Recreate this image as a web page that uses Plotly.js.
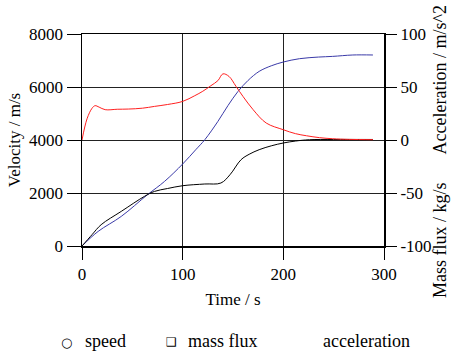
<!DOCTYPE html>
<html>
<head>
<meta charset="utf-8">
<script src="https://cdn.plot.ly/plotly-3.0.1.min.js"></script>
<style>html,body{margin:0;padding:0;background:#fff;}#chart{width:452px;height:354px;}</style>
</head>
<body>
<div id="chart"></div>
<script>
// Speed (velocity, m/s) — blue
const speedTime  = [0, 16, 39, 65, 82, 100, 113, 122, 135, 145, 155, 165, 176, 188, 200, 216, 235, 249, 269, 289];
const speedValue = [0, 550, 1117, 1935, 2438, 3094, 3634, 4011, 4702, 5300, 5834, 6250, 6589, 6800, 6943, 7068, 7130, 7155, 7208, 7208];

// Mass flux (plotted on velocity scale) — black
const fluxTime  = [0, 10, 19, 39, 62, 72, 85, 100, 122, 138, 147, 158, 166, 176, 188, 200, 212, 226, 250, 289];
const fluxValue = [0, 430, 804, 1306, 1872, 2060, 2170, 2275, 2340, 2377, 2690, 3257, 3460, 3634, 3780, 3887, 3960, 4011, 4020, 4020];

// Acceleration (m/s^2) — red
const accTime  = [0, 5, 10, 13, 17, 23, 35, 46, 60, 72, 85, 100, 112, 120, 128, 135, 140, 146, 153, 160, 170, 183, 200, 212, 223, 236, 249, 265, 289];
const accValue = [0, 20, 30, 32.4, 31, 28.6, 29, 29.2, 30, 31.7, 33.5, 36.4, 41.8, 46, 51.2, 56, 62.4, 60, 50.6, 41, 28.6, 16, 9.7, 6, 4, 2.2, 1.2, 0.6, 0.3];

const xTicks = [0, 100, 200, 300];
const yTicks = [0, 2000, 4000, 6000, 8000];
const y2Ticks = [-100, -50, 0, 50, 100];

const legendSymbols = ["○", "❑", ""];
const legendLabels = ["speed", "mass flux", "acceleration"];

const serif = "Liberation Serif";

const traces = [
  {x: speedTime, y: speedValue, mode: "lines", name: "speed", line: {color: "#3a3aa8", width: 1, shape: "spline"}, yaxis: "y"},
  {x: fluxTime, y: fluxValue, mode: "lines", name: "mass flux", line: {color: "#000000", width: 1, shape: "spline"}, yaxis: "y"},
  {x: accTime, y: accValue, mode: "lines", name: "acceleration", line: {color: "#ff2020", width: 1, shape: "spline"}, yaxis: "y2"}
];

// paper coordinates from pixel positions (plot area 82..384 x, 34..246 y)
const px = v => (v - 82) / 302;
const py = v => (246 - v) / 212;

const annotations = [
  {text: "Acceleration / m/s^2", xref: "paper", yref: "paper", x: px(440), y: py(4), xanchor: "center", yanchor: "top",
   textangle: -90, showarrow: false, font: {family: serif, size: 18}},
  {text: "Mass flux / kg/s", xref: "paper", yref: "paper", x: px(440), y: py(300), xanchor: "center", yanchor: "bottom",
   textangle: -90, showarrow: false, font: {family: serif, size: 18}},
  {text: legendSymbols[0], xref: "paper", yref: "paper", x: px(66), y: py(342), xanchor: "center", yanchor: "middle", showarrow: false, font: {family: "DejaVu Sans", size: 13}},
  {text: legendSymbols[1], xref: "paper", yref: "paper", x: px(171), y: py(342), xanchor: "center", yanchor: "middle", showarrow: false, font: {family: "DejaVu Sans", size: 12}},
  {text: legendLabels[0], xref: "paper", yref: "paper", x: px(83), y: py(341), xanchor: "left", yanchor: "middle", showarrow: false, font: {family: serif, size: 18}},
  {text: legendLabels[1], xref: "paper", yref: "paper", x: px(186), y: py(341), xanchor: "left", yanchor: "middle", showarrow: false, font: {family: serif, size: 18}},
  {text: legendLabels[2], xref: "paper", yref: "paper", x: px(321), y: py(341), xanchor: "left", yanchor: "middle", showarrow: false, font: {family: serif, size: 18}}
];

const layout = {
  width: 452, height: 354,
  margin: {l: 82, r: 68, t: 34, b: 108, pad: 0},
  paper_bgcolor: "#fff", plot_bgcolor: "#fff",
  showlegend: false,
  font: {family: serif, size: 16, color: "#000"},
  xaxis: {
    range: [0, 300], tickvals: xTicks, ticktext: xTicks.map(String),
    ticks: "outside", ticklen: 12, tickcolor: "#000", tickwidth: 1,
    showline: true, mirror: true, linecolor: "#000", linewidth: 1.5,
    showgrid: true, gridcolor: "#222", gridwidth: 1, zeroline: false,
    tickfont: {family: serif, size: 17},
    title: {text: "Time / s", font: {family: serif, size: 17}, standoff: 10}
  },
  yaxis: {
    range: [0, 8000], tickvals: yTicks, ticktext: yTicks.map(String),
    ticks: "outside", ticklen: 14, tickcolor: "#000", tickwidth: 1,
    showline: true, mirror: true, linecolor: "#000", linewidth: 1.5,
    showgrid: true, gridcolor: "#222", gridwidth: 1, zeroline: false,
    tickfont: {family: serif, size: 17},
    title: {text: "Velocity / m/s", font: {family: serif, size: 17}, standoff: 4}
  },
  yaxis2: {
    overlaying: "y", side: "right", anchor: "x",
    range: [-100, 100], tickvals: y2Ticks, ticktext: y2Ticks.map(String),
    ticks: "outside", ticklen: 12, tickcolor: "#000", tickwidth: 1,
    showline: false, showgrid: false, zeroline: false,
    tickfont: {family: serif, size: 17}
  },
  annotations: annotations
};

Plotly.newPlot("chart", traces, layout, {displayModeBar: false, staticPlot: true});
</script>
</body>
</html>
